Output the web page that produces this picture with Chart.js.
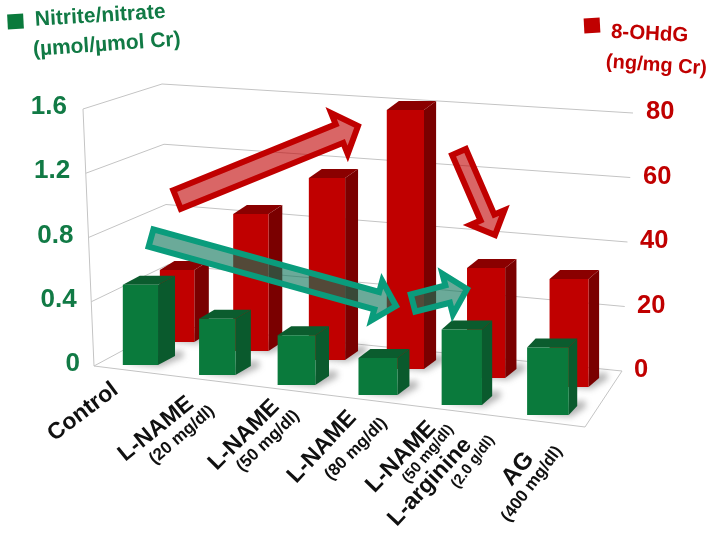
<!DOCTYPE html>
<html>
<head>
<meta charset="utf-8">
<title>Nitrite/nitrate and 8-OHdG</title>
<script src="https://cdn.jsdelivr.net/npm/chart.js@4"></script>
<style>
    html, body { margin: 0; padding: 0; background: #ffffff; }
    canvas { display: block; filter: blur(0.4px); }
</style>
</head>
<body>
<canvas id="barChart" width="711" height="534"></canvas>
<script>
const categories = [
    "Control",
    "L-NAME (20 mg/dl)",
    "L-NAME (50 mg/dl)",
    "L-NAME (80 mg/dl)",
    "L-NAME (50 mg/dl) + L-arginine (2.0 g/dl)",
    "AG (400 mg/dl)",
];
const nitriteValues = [0.5, 0.35, 0.31, 0.23, 0.47, 0.42];
const ohdgValues = [22.3, 42.5, 56.4, 80.3, 34.1, 33.5];
const nitriteTicks = [0, 0.4, 0.8, 1.2, 1.6];
const ohdgTicks = [0, 20, 40, 60, 80];

const green = { front: "#0a7a3c", side: "#0a5a2d", top: "#0b5c2e", text: "#117a45" };
const red = { front: "#c00000", side: "#7a0000", top: "#8a0000", text: "#c00000" };
const fontName = '"Liberation Sans", Arial, sans-serif';

// floor box of the fake 3D view, corners as [x, y]
const box = {
    frontLeftTop: [83, 109], frontLeftFloor: [94, 366],
    backLeftTop: [162, 84], backLeftFloor: [170, 325],
    backRightTop: [633, 113], backRightFloor: [622, 371],
    frontRightFloor: [585, 427],
};

// per dataset perspective: green row is in front, red row behind
const rows = [
    { floor0: 0, floorStep: 10, pull: 0, width0: 0.96, widthStep: 0.035, depth0: 17, depthStep: -1.7, lift: 9 },
    { floor0: -29, floorStep: 9, pull: -3.1, width0: 0.94, widthStep: 0.025, depth0: 14.5, depthStep: -0.8, lift: 9 },
];

const axisLabels = [
    { text: "Control", size: 23, x: 83, y: 412, angle: 37 },
    { text: "L-NAME", size: 23, x: 156, y: 429, angle: 39 },
    { text: "(20 mg/dl)", size: 17, x: 182, y: 435, angle: 41 },
    { text: "L-NAME", size: 23, x: 244, y: 435, angle: 45 },
    { text: "(50 mg/dl)", size: 17, x: 268, y: 441, angle: 44 },
    { text: "L-NAME", size: 23, x: 322, y: 447, angle: 47 },
    { text: "(80 mg/dl)", size: 17, x: 356, y: 449, angle: 45 },
    { text: "L-NAME", size: 23, x: 401, y: 457, angle: 46 },
    { text: "(50 mg/dl)", size: 15, x: 428, y: 454, angle: 50 },
    { text: "L-arginine", size: 23, x: 430, y: 482, angle: 47 },
    { text: "(2.0 g/dl)", size: 15, x: 473, y: 462, angle: 53 },
    { text: "AG", size: 24, x: 518, y: 469, angle: 50 },
    { text: "(400 mg/dl)", size: 17, x: 532, y: 484, angle: 53 },
];
const legendTexts = [
    { text: "Nitrite/nitrate", size: 21, x: 35, y: 20, angle: -3.5, color: green.text },
    { text: "(\u00b5mol/\u00b5mol Cr)", size: 21, x: 33, y: 50, angle: -4, color: green.text },
    { text: "8-OHdG", size: 20.5, x: 611, y: 32, angle: 3, color: red.text },
    { text: "(ng/mg Cr)", size: 20, x: 606, y: 62, angle: 4, color: red.text },
];
const arrows = [
    { tail: [177, 199.5], tip: [358, 126], shaft: 20, head: 44, len: 20, color: "#c00000", fill: "rgba(192, 0, 0, 0.6)" },
    { tail: [459, 152], tip: [495, 235], shaft: 15, head: 37, len: 19, color: "#c00000", fill: "rgba(192, 0, 0, 0.6)" },
    { tail: [151, 238], tip: [396, 306], shaft: 18, head: 41, len: 20, color: "#0a9c7c", fill: "rgba(16, 118, 90, 0.62)" },
    { tail: [413, 303], tip: [467, 289], shaft: 18, head: 42, len: 20, color: "#0a9c7c", fill: "rgba(16, 118, 90, 0.62)" },
];

function mix(a, b, t) {
    return [a[0] + (b[0] - a[0]) * t, a[1] + (b[1] - a[1]) * t];
}

function polygon(ctx, points, fill) {
    ctx.beginPath();
    points.forEach(function (p, i) {
        if (i === 0) ctx.moveTo(p[0], p[1]);
        else ctx.lineTo(p[0], p[1]);
    });
    ctx.closePath();
    ctx.fillStyle = fill;
    ctx.fill();
}

function polyline(ctx, points) {
    ctx.beginPath();
    points.forEach(function (p, i) {
        if (i === 0) ctx.moveTo(p[0], p[1]);
        else ctx.lineTo(p[0], p[1]);
    });
    ctx.stroke();
}

function rotatedText(ctx, item, align) {
    ctx.save();
    ctx.translate(item.x, item.y);
    ctx.rotate((item.angle * Math.PI) / 180);
    ctx.font = "bold " + item.size + "px " + fontName;
    ctx.textAlign = align;
    ctx.textBaseline = "middle";
    ctx.fillStyle = item.color || "#101010";
    ctx.fillText(item.text, 0, 0);
    ctx.restore();
}

function drawArrow(ctx, a) {
    const dx = a.tip[0] - a.tail[0];
    const dy = a.tip[1] - a.tail[1];
    const length = Math.hypot(dx, dy);
    const ux = dx / length;
    const uy = dy / length;
    const at = function (along, across) {
        return [a.tail[0] + ux * along - uy * across, a.tail[1] + uy * along + ux * across];
    };
    const neck = length - a.len;
    const points = [
        at(0, -a.shaft / 2), at(neck, -a.shaft / 2), at(neck, -a.head / 2),
        at(length, 0),
        at(neck, a.head / 2), at(neck, a.shaft / 2), at(0, a.shaft / 2),
    ];
    polygon(ctx, points, a.fill);
    ctx.strokeStyle = a.color;
    ctx.lineWidth = 6;
    ctx.lineJoin = "miter";
    ctx.miterLimit = 6;
    ctx.closePath();
    ctx.stroke();
}

const view3d = {
    id: "view3d",
    // push the flat bars onto the slanted floor
    afterDatasetsUpdate: function (chart) {
        chart.data.datasets.forEach(function (dataset, d) {
            const row = rows[d];
            chart.getDatasetMeta(d).data.forEach(function (bar, i) {
                const shift = row.floor0 + row.floorStep * i;
                bar.x = bar.x + row.pull * i - 1.15 * i * (5 - i);
                bar.y = bar.y + shift;
                bar.base = bar.base + shift;
                bar.width = bar.width * (row.width0 + row.widthStep * i);
            });
        });
    },
    beforeDatasetsDraw: function (chart) {
        const ctx = chart.ctx;
        const left = chart.scales.yLeft;
        const top = left.getPixelForValue(1.6);
        const zero = left.getPixelForValue(0);

        ctx.save();
        ctx.strokeStyle = "#c4c4c4";
        ctx.lineWidth = 1;
        nitriteTicks.forEach(function (tick) {
            const t = (zero - left.getPixelForValue(tick)) / (zero - top);
            polyline(ctx, [
                mix(box.frontLeftFloor, box.frontLeftTop, t),
                mix(box.backLeftFloor, box.backLeftTop, t),
                mix(box.backRightFloor, box.backRightTop, t),
            ]);
        });
        polyline(ctx, [box.frontLeftTop, box.frontLeftFloor, box.frontRightFloor, box.backRightFloor]);

        // soft shadows on the floor
        ctx.filter = "blur(3px)";
        [1, 0].forEach(function (d) {
            const row = rows[d];
            chart.getDatasetMeta(d).data.forEach(function (bar, i) {
                const right = bar.x + bar.width / 2;
                const depth = row.depth0 + row.depthStep * i;
                polygon(ctx, [
                    [bar.x - bar.width / 2 + 2, bar.base - 2],
                    [right + 2, bar.base + 2],
                    [right + depth + 9, bar.base - row.lift + 1],
                    [right + depth + 7, bar.base - row.lift - 6],
                    [bar.x, bar.base - 6],
                ], "rgba(70, 70, 70, 0.4)");
            });
        });
        ctx.restore();
    },
    // side and top faces go under the front face the library draws
    beforeDatasetDraw: function (chart, args) {
        const ctx = chart.ctx;
        const row = rows[args.index];
        const colors = args.index === 0 ? green : red;
        args.meta.data.forEach(function (bar, i) {
            const l = bar.x - bar.width / 2;
            const r = bar.x + bar.width / 2;
            const depth = row.depth0 + row.depthStep * i;
            const lift = row.lift;
            polygon(ctx, [
                [r, bar.y], [r + depth, bar.y - lift], [r + depth, bar.base - lift], [r, bar.base],
            ], colors.side);
            polygon(ctx, [
                [l, bar.y], [l + depth, bar.y - lift], [r + depth, bar.y - lift], [r, bar.y],
            ], colors.top);
        });
    },
    afterDatasetsDraw: function (chart) {
        const ctx = chart.ctx;
        ctx.save();
        arrows.forEach(function (a) {
            drawArrow(ctx, a);
        });

        // value ticks follow the slanted edges of the box
        const left = chart.scales.yLeft;
        left.ticks.forEach(function (tick) {
            const y = left.getPixelForValue(tick.value);
            const x = 80 - 13 * (tick.value / 1.6);
            rotatedText(ctx, { text: tick.label, size: 26, x: x, y: y - 1, angle: 0, color: green.text }, "right");
        });
        const right = chart.scales.yRight;
        right.ticks.forEach(function (tick) {
            const y = right.getPixelForValue(tick.value);
            const x = 634 + 12 * (tick.value / 80);
            rotatedText(ctx, { text: tick.label, size: 25.5, x: x, y: y - 1, angle: 0, color: red.text }, "left");
        });

        axisLabels.forEach(function (item) {
            rotatedText(ctx, { text: item.text, size: item.size, x: item.x, y: item.y, angle: -item.angle }, "center");
        });
        legendTexts.forEach(function (item) {
            rotatedText(ctx, item, "left");
        });

        // legend squares
        ctx.save();
        ctx.translate(15.5, 21.5);
        ctx.rotate((-3 * Math.PI) / 180);
        ctx.fillStyle = green.front;
        ctx.fillRect(-8, -7.5, 16, 15);
        ctx.restore();
        ctx.save();
        ctx.translate(592, 25.5);
        ctx.rotate((-3 * Math.PI) / 180);
        ctx.fillStyle = red.front;
        ctx.fillRect(-8, -7.5, 16, 15);
        ctx.restore();
        ctx.restore();
    },
};

new Chart(document.getElementById("barChart").getContext("2d"), {
    type: "bar",
    data: {
        labels: categories,
        datasets: [
            {
                label: "Nitrite/nitrate",
                data: nitriteValues,
                yAxisID: "yLeft",
                backgroundColor: green.front,
                clip: false,
            },
            {
                label: "8-OHdG",
                data: ohdgValues,
                yAxisID: "yRight",
                backgroundColor: red.front,
                clip: false,
            },
        ],
    },
    options: {
        responsive: false,
        animation: false,
        events: [],
        categoryPercentage: 0.9,
        barPercentage: 1,
        layout: { padding: { left: 118, right: 104, top: 108, bottom: 89 } },
        plugins: {
            legend: { display: false },
            tooltip: { enabled: false },
        },
        scales: {
            x: { display: false, offset: true },
            yLeft: {
                display: false,
                position: "left",
                min: -0.4981,
                max: 1.6,
                afterBuildTicks: function (scale) {
                    scale.ticks = nitriteTicks.map((v) => ({ value: v }));
                },
                ticks: { callback: (v) => String(v) },
            },
            yRight: {
                display: false,
                position: "right",
                min: -22.95,
                max: 81.55,
                afterBuildTicks: function (scale) {
                    scale.ticks = ohdgTicks.map((v) => ({ value: v }));
                },
                ticks: { callback: (v) => String(v) },
            },
        },
    },
    plugins: [view3d],
});
</script>
</body>
</html>
